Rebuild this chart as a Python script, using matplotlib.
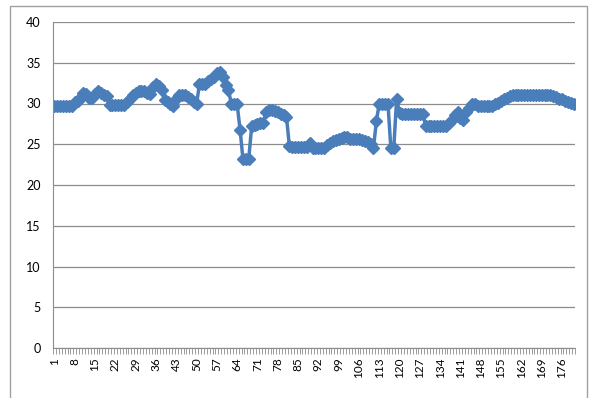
import numpy as np
import matplotlib
matplotlib.use("Agg")
import matplotlib.pyplot as plt
from matplotlib.patches import Rectangle

# values, one per category (1..180)
values = ([29.7] * 7 + [30.2, 30.3] + [30.8, 31.3, 31.2] + [30.7, 30.7]
          + [31.2, 31.5, 31.3] + [31.0, 30.9] + [29.8] * 6 + [30.2, 30.6]
          + [31.0, 31.3, 31.5, 31.5, 31.5] + [31.3, 31.2] + [32.0, 32.4, 32.2]
          + [31.7] + [30.4, 30.2] + [29.9, 29.7] + [30.5, 31.0] + [31.0, 31.0]
          + [30.8, 30.5] + [30.2, 29.9] + [32.4] * 3 + [32.7, 33.0, 33.3]
          + [33.7, 33.9] + [33.2] + [32.3, 31.7] + [29.9] * 3 + [26.8]
          + [23.2] * 3 + [27.2, 27.4, 27.5, 27.6, 27.6] + [29.0, 29.2, 29.2, 29.1]
          + [28.9] + [28.7, 28.6, 28.4] + [24.8] + [24.7] * 6 + [25.1]
          + [24.6] * 5 + [24.9, 25.2, 25.4, 25.5, 25.6] + [25.8, 25.9, 25.9]
          + [25.7] * 3 + [25.6, 25.5] + [25.4, 25.3, 25.0] + [24.5] + [27.8]
          + [30.0] * 4 + [24.5, 24.5] + [30.6] + [28.8] + [28.7] * 8
          + [27.3] + [27.2] * 7 + [27.6]
          + [28.0, 28.6, 29.0, 28.2, 28.0, 29.0, 29.5, 29.9, 30.0]
          + [29.7] * 6 + [29.9, 30.1, 30.3, 30.5, 30.7, 30.9] + [31.0] * 14
          + [30.9, 30.8, 30.6, 30.5, 30.3, 30.2, 30.1, 30.0])
categories = np.arange(1, len(values) + 1)
label_step = 7
y_ticks = [0, 5, 10, 15, 20, 25, 30, 35, 40]

plt.rcParams['font.family'] = ['Lato', 'DejaVu Sans']

fig = plt.figure(figsize=(5.9, 3.98), dpi=100)
ax = fig.add_axes([53 / 590, 50 / 398, 522 / 590, 326 / 398])

# outer chart border
fig.patches.append(Rectangle((10 / 590, -0.1), 577 / 590, 1.1 - 6 / 398,
                             transform=fig.transFigure, fill=False,
                             edgecolor='#a0a0a0', lw=1))

ax.plot(categories, values, color='#4a7ebb', lw=2.5, marker='D',
        markersize=5.8, markeredgecolor='#4a7ebb', markerfacecolor='#4a7ebb')

ax.set_xlim(0.5, len(values) + 0.5)
ax.set_ylim(0, 40)
ax.set_yticks(y_ticks)
ax.yaxis.grid(True, color='#8c8c8c', lw=0.9)
ax.set_axisbelow(True)

major = categories[::label_step]
ax.set_xticks(major)
ax.set_xticklabels([str(c) for c in major], rotation=90, fontsize=8.5)
ax.set_xticks(np.arange(0.5, len(values) + 1, 1), minor=True)
ax.tick_params(axis='x', which='major', length=0, pad=7)
ax.tick_params(axis='x', which='minor', length=4, color='#8c8c8c', direction='out')
ax.tick_params(axis='y', length=0, labelsize=9, pad=9)

for s in ['top', 'right']:
    ax.spines[s].set_visible(False)
ax.spines['left'].set_color('#8c8c8c')
ax.spines['bottom'].set_color('#8c8c8c')

fig.savefig('out.png', dpi=100)
